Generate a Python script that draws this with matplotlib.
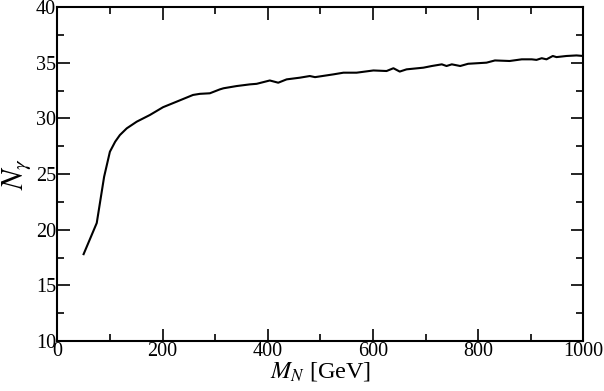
import matplotlib
matplotlib.use("Agg")
import matplotlib.pyplot as plt
from matplotlib.ticker import MultipleLocator

mass_gev = [50, 75, 89, 100, 110, 119, 132, 151, 176, 201, 227, 258, 271, 290, 309,
            316, 341, 366, 379, 404, 420, 436, 461, 480, 490, 525, 544, 569, 601,
            626, 639, 651, 664, 696, 712, 731, 740, 750, 766, 781, 816, 832, 860,
            883, 902, 911, 921, 930, 942, 949, 968, 987, 1000]
n_gamma = [17.8, 20.6, 24.75, 27.0, 27.9, 28.5, 29.1, 29.7, 30.3, 31.0, 31.5, 32.1, 32.2,
           32.25, 32.6, 32.7, 32.9, 33.05, 33.1, 33.4, 33.2, 33.5, 33.65, 33.8, 33.7,
           33.95, 34.1, 34.1, 34.3, 34.25, 34.5, 34.2, 34.4, 34.55, 34.7, 34.85, 34.7,
           34.85, 34.7, 34.9, 35.0, 35.2, 35.15, 35.3, 35.3, 35.25, 35.4, 35.3, 35.6,
           35.5, 35.6, 35.65, 35.6]

plt.rcParams['font.family'] = ['Liberation Serif', 'DejaVu Serif']
plt.rcParams['mathtext.fontset'] = 'stix'

fig = plt.figure(figsize=(6.04, 3.91), dpi=100)
ax = fig.add_axes([57.3/604, 1-341/391, (583.3-57.3)/604, (341-7)/391])
ax.plot(mass_gev, n_gamma, color='black', lw=1.5)
ax.set_xlim(0, 1000)
ax.set_ylim(10, 40)
ax.xaxis.set_major_locator(MultipleLocator(200))
ax.xaxis.set_minor_locator(MultipleLocator(100))
ax.yaxis.set_major_locator(MultipleLocator(5))
ax.yaxis.set_minor_locator(MultipleLocator(2.5))
ax.tick_params(which='both', direction='in', top=True, right=True, labelsize=14.5, width=1.2)
ax.tick_params(which='major', length=9, pad=1)
ax.tick_params(which='minor', length=5)
for s in ax.spines.values():
    s.set_linewidth(1.5)
ax.set_xlabel(r'$M_N$ [GeV]', fontsize=17.5, labelpad=-1)
ax.set_ylabel(r'$N_\gamma$', fontsize=22, labelpad=2)
fig.savefig('out.png', dpi=100)
